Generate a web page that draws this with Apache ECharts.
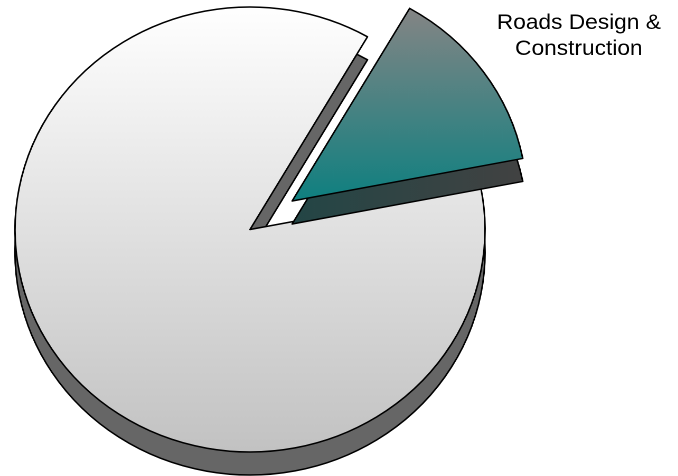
<!DOCTYPE html>
<html>
<head>
<meta charset="utf-8">
<title>Budget share</title>
<script src="https://cdn.jsdelivr.net/npm/echarts@6/dist/echarts.min.js"></script>
<style>
  html, body { margin: 0; padding: 0; background: #fff; overflow: hidden; }
  /* the pie is drawn round and widened into the tilted ellipse */
  #chart { width: 642px; height: 476px; transform: scaleX(1.0562); transform-origin: 0 0; }
</style>
</head>
<body>
<div id="chart"></div>
<script>
// Slices of the pie, in drawing order (clockwise from the start angle)
const sectors = ['Roads Design & Construction', 'Other'];
const shares = [13.6, 86.4];
// Only the first slice carries a label
const labelled = [true, false];

// Face colours: top surface gradients and the darker side walls
const topColours = [
  ['#858585', '#0e8080'],
  ['#ffffff', '#c2c2c2']
];
const sideColours = [
  ['#234646', '#424242'],
  ['#666666', '#666666']
];

const pieCenter = [236.7, 229.5];
const pieRadius = 222.5;
const depth = 23;
const explode = 49;
const startAngle = 60;

const chart = echarts.init(document.getElementById('chart'), null, {
  renderer: 'canvas', devicePixelRatio: 2
});

const hidden = { color: 'rgba(0,0,0,0)', borderWidth: 0 };

function vertical(c) {
  return new echarts.graphic.LinearGradient(0, 0, 0, 1, [
    { offset: 0, color: c[0] }, { offset: 1, color: c[1] }
  ]);
}
function horizontal(c) {
  return new echarts.graphic.LinearGradient(0, 0, 1, 0, [
    { offset: 0, color: c[0] }, { offset: 1, color: c[1] }
  ]);
}

// One pie layer: every slice is laid out so angles stay identical,
// but only the slice at `show` is painted.
function layer(isTop, show) {
  const cy = isTop ? pieCenter[1] : pieCenter[1] + depth;
  return {
    type: 'pie',
    center: [pieCenter[0], cy],
    radius: pieRadius,
    startAngle: startAngle,
    clockwise: true,
    selectedMode: 'single',
    selectedOffset: explode,
    avoidLabelOverlap: false,
    silent: true,
    animation: false,
    emphasis: { disabled: true },
    labelLine: { show: false, length: 61, length2: 35.7 },
    labelLayout: { align: 'center' },
    data: sectors.map((name, i) => {
      const paint = i === show;
      const style = paint ? {
        color: isTop ? vertical(topColours[i]) : horizontal(sideColours[i]),
        borderColor: '#000',
        borderWidth: 1.5
      } : hidden;
      return {
        name: name,
        value: shares[i],
        selected: i === 0,
        itemStyle: style,
        select: { itemStyle: style, label: { show: paint && isTop && labelled[i] } },
        label: {
          show: paint && isTop && labelled[i],
          position: 'outside',
          overflow: 'none',
          formatter: p => p.name.replace('& ', '&\n'),
          fontFamily: 'Liberation Sans, Arial, sans-serif',
          fontSize: 21.5,
          lineHeight: 26,
          color: '#000',
          align: 'center',
          distanceToLabelLine: 5
        }
      };
    })
  };
}

chart.setOption({
  animation: false,
  series: [
    layer(false, 1),
    layer(true, 1),
    layer(false, 0),
    layer(true, 0)
  ]
});
</script>
</body>
</html>
